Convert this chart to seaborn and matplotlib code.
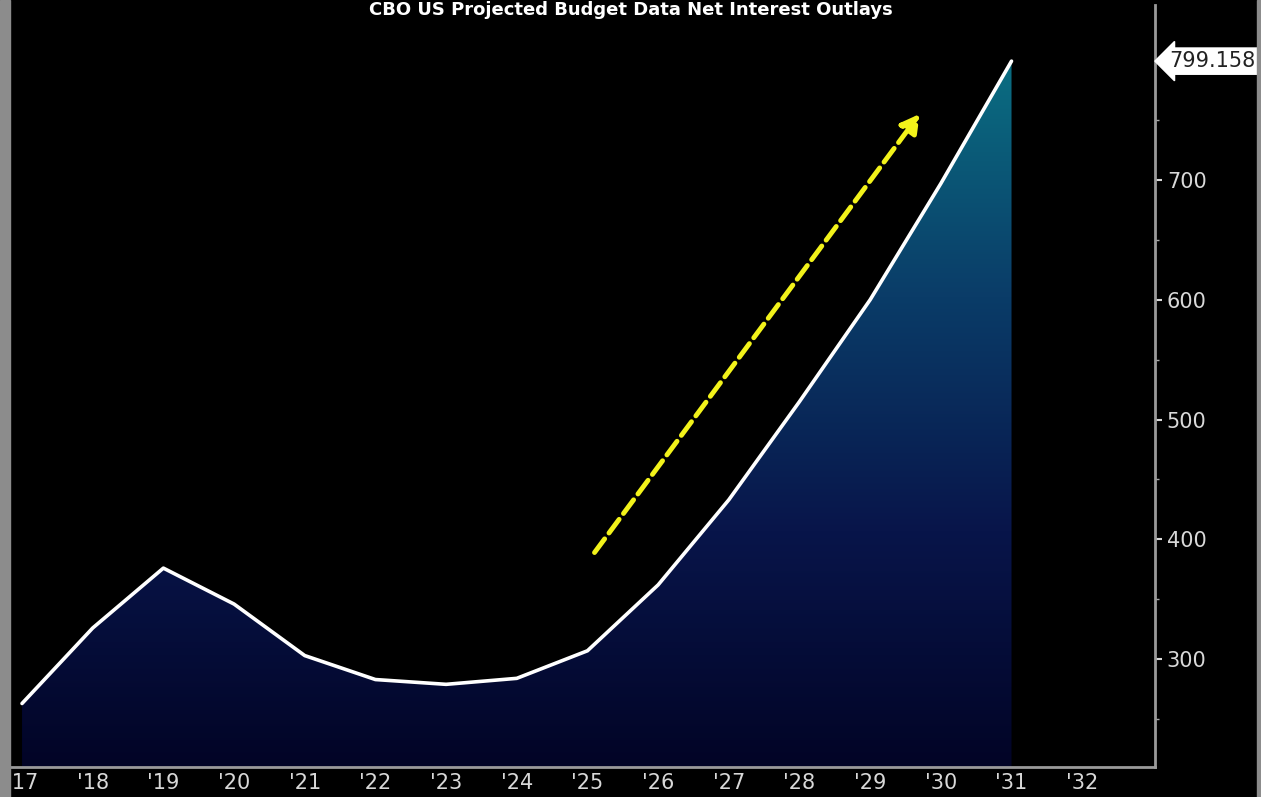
import numpy as np
import pandas as pd
import matplotlib
matplotlib.use('Agg')
import matplotlib.pyplot as plt
from matplotlib.colors import LinearSegmentedColormap
from matplotlib.patches import Rectangle
import seaborn as sns

# CBO projected net interest outlays ($bn)
years = [2017, 2018, 2019, 2020, 2021, 2022, 2023, 2024, 2025, 2026, 2027, 2028, 2029, 2030, 2031]
outlays = [263, 326, 376, 346, 303, 283, 279, 284, 307, 362, 433, 515, 600, 697, 799.158]
tick_years = list(range(2017, 2033))
tick_labels = ["'%02d" % (y % 100) for y in tick_years]
y_ticks = [300, 400, 500, 600, 700]
arrow_start = (2025.1, 389)
arrow_end = (2029.7, 755)
title = 'CBO US Projected Budget Data Net Interest Outlays'

sns.set_theme(style='dark', rc={'axes.facecolor': 'black', 'figure.facecolor': 'black'})

df = pd.DataFrame({'year': years, 'outlays': outlays})

fig = plt.figure(figsize=(12.61, 7.97), dpi=100)
ax = fig.add_axes([10 / 1261, 30 / 797, 1145 / 1261, 762 / 797])
ax.set_facecolor('black')

ymin, ymax = 210, 846
ax.set_xlim(2016.83, 2033.03)
ax.set_ylim(ymin, ymax)

# gradient fill under the line
cmap = LinearSegmentedColormap.from_list('bb', ['#020426', '#08154a', '#0a3c68', '#0b6e82'])
grad = np.linspace(0, 1, 256).reshape(-1, 1)
im = ax.imshow(grad, cmap=cmap, origin='lower', aspect='auto',
               extent=[years[0], years[-1], ymin, max(outlays)], zorder=1)
poly = ax.fill_between(df['year'], df['outlays'], ymin, color='none', lw=0)
clip = poly.get_paths()[0]
im.set_clip_path(clip, transform=ax.transData)

sns.lineplot(data=df, x='year', y='outlays', ax=ax, color='white', lw=2.6, zorder=3)

ax.annotate('', xy=arrow_end, xytext=arrow_start,
            arrowprops=dict(arrowstyle='-|>,head_length=0.9,head_width=0.5', color='#f2f21a',
                            lw=3.5, linestyle=(0, (3.5, 1.5)), shrinkA=0, shrinkB=0), zorder=4)

ax.yaxis.tick_right()
ax.set_yticks(y_ticks)
ax.set_yticks([250, 350, 450, 550, 650, 750], minor=True)
ax.set_xticks(tick_years)
ax.set_xticklabels(tick_labels)
ax.tick_params(axis='both', colors='#d8d8d8', labelsize=15, length=5, width=1.5, direction='out')
ax.tick_params(axis='y', which='minor', length=3, color='#aaaaaa', right=True)
ax.tick_params(axis='x', length=3, pad=1)
ax.set_xlabel('')
ax.set_ylabel('')
ax.grid(False)
for s in ['left', 'top']:
    ax.spines[s].set_visible(False)
for s in ['right', 'bottom']:
    ax.spines[s].set_visible(True)
    ax.spines[s].set_color('#9a9a9a')
    ax.spines[s].set_linewidth(2)

# last value tag
ax.annotate('%.3f' % outlays[-1], xy=(1.0, outlays[-1]), xycoords=('axes fraction', 'data'),
            xytext=(10, 0), textcoords='offset points', va='center', ha='left',
            fontsize=15, color='#222222',
            bbox=dict(boxstyle='larrow,pad=0.15', fc='white', ec='white'))

fig.text(0.5, 0.999, title, ha='center', va='top', color='white',
         fontsize=13, fontweight='bold')

# grey frame edges of the screenshot
fig.add_artist(Rectangle((0, 0), 10 / 1261, 1, transform=fig.transFigure,
                         color='#8c8c8c', zorder=10))
fig.add_artist(Rectangle((1257 / 1261, 0), 4 / 1261, 1, transform=fig.transFigure,
                         color='#8c8c8c', zorder=10))

fig.savefig('out.png', dpi=100, facecolor='black')
